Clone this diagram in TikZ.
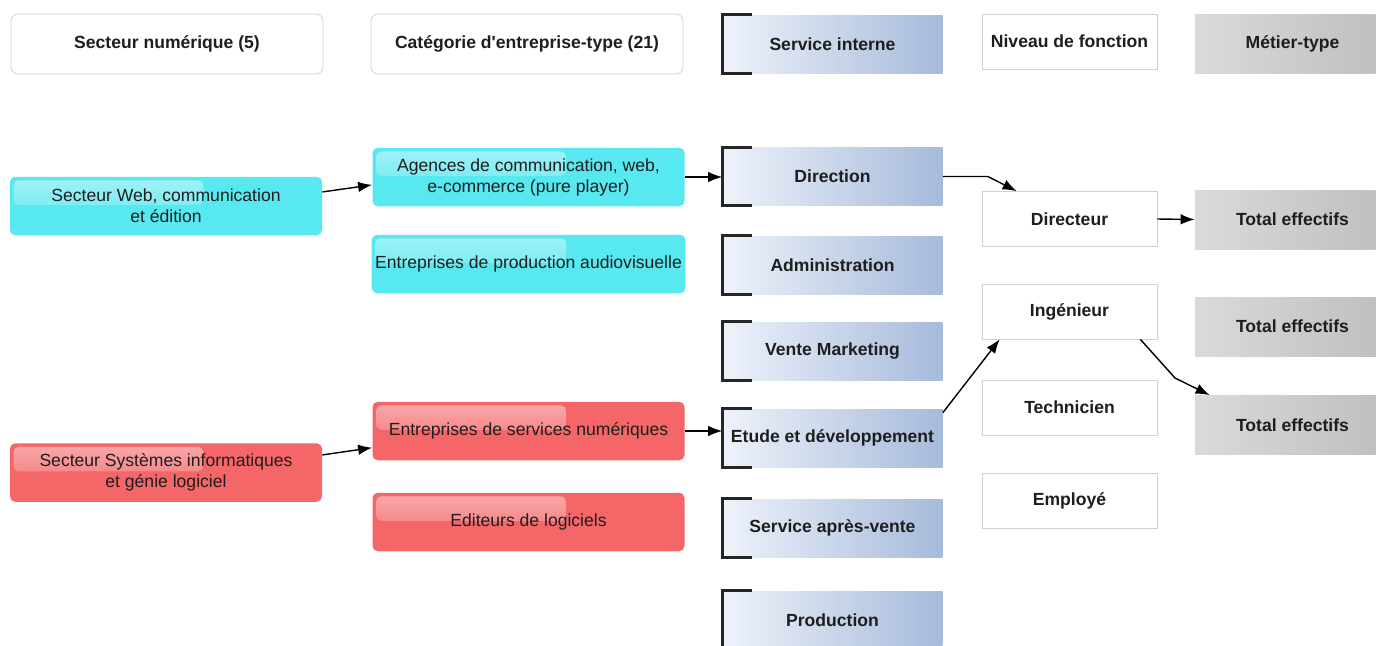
\documentclass[tikz,border=0pt]{standalone}
\usepackage{fontspec}
\setmainfont{Liberation Sans}
\usetikzlibrary{calc,fadings,arrows.meta}
\definecolor{cyanbox}{RGB}{88,232,240}
\definecolor{redbox}{RGB}{244,102,104}
\definecolor{svcleft}{RGB}{238,242,250}
\definecolor{svcright}{RGB}{166,186,218}
\definecolor{grisclair}{RGB}{218,218,218}
\definecolor{grisfonce}{RGB}{190,190,190}
\definecolor{bord}{RGB}{208,208,208}
\definecolor{texte}{RGB}{30,30,30}
\tikzset{
  base/.style={font=\fontsize{10}{12}\selectfont\bfseries, text=texte, inner sep=2pt, align=center},
  entete/.style={base, draw=bord, fill=white, rounded corners=4pt, minimum width=6.24cm, minimum height=1.2cm},
  gloss/.style={path picture={\fill[white,opacity=.45,rounded corners=3pt,path fading=south]
      ([shift={(2pt,-2pt)}]path picture bounding box.north west) rectangle
      ($(path picture bounding box.north west)!.62!(path picture bounding box.east)+(0,-0.2)$);}},
  secteur/.style={base, font=\fontsize{10}{12}\selectfont, fill=#1, rounded corners=3pt,
      minimum width=6.24cm, minimum height=1.17cm, gloss},
  service/.style={base, left color=svcleft, right color=svcright, minimum width=4.4cm, minimum height=1.16cm},
  crochet/.style={draw=black!85, line width=1.6pt},
  fonction/.style={base, draw=bord, fill=white, minimum width=3.5cm, minimum height=1.1cm},
  metier/.style={base, left color=grisclair, right color=grisfonce, minimum width=3.9cm, minimum height=1.18cm},
  fleche/.style={draw, thick, ->, >={Latex[length=8pt,width=6pt]}}
}
\begin{document}
\begin{tikzpicture}
\useasboundingbox (0,0) rectangle (27.52,-12.9);

% en-tetes
\node[entete] (secnum) at (3.34,-0.88) {Secteur numérique (5)};
\node[entete] (catent) at (10.54,-0.88) {Catégorie d\textquotesingle entreprise-type (21)};
\node[fonction] (niveau) at (21.39,-0.83) {Niveau de fonction};
\node[metier] (metier) at (25.85,-0.88) {Métier-type};

% secteurs et categories
\node[secteur=cyanbox] (web) at (3.32,-4.12) {Secteur Web, communication\\et édition};
\node[secteur=cyanbox] (agences) at (10.57,-3.54) {Agences de communication, web,\\e-commerce (pure player)};
\node[secteur=cyanbox] (audio) at (10.57,-5.28) {Entreprises de production audiovisuelle};
\node[secteur=redbox] (systemes) at (3.32,-9.45) {Secteur Systèmes informatiques\\et génie logiciel};
\node[secteur=redbox] (esn) at (10.57,-8.62) {Entreprises de services numériques};
\node[secteur=redbox] (editeurs) at (10.57,-10.44) {Editeurs de logiciels};

% services internes
\foreach \nom/\txt/\y in {svcint/Service interne/-0.88, direction/Direction/-3.53,
    admin/Administration/-5.3, vente/Vente Marketing/-7.02, etude/Etude et développement/-8.76,
    sav/Service après-vente/-10.56, production/Production/-12.4} {
  \node[service] (\nom) at (16.65,\y) {\txt};
  \draw[crochet] ([xshift=0.6cm]\nom.north west) -| (\nom.south west) -- ([xshift=0.6cm]\nom.south west);
}

% niveaux de fonction
\foreach \nom/\txt/\y in {directeur/Directeur/-4.38, ingenieur/Ingénieur/-6.23,
    technicien/Technicien/-8.15, employe/Employé/-10.01}
  \node[fonction] (\nom) at (21.39,\y) {\txt};

% metiers-types
\foreach \nom/\y in {tot1/-4.39, tot2/-6.53, tot3/-8.5}
  \node[metier] (\nom) at (25.85,\y) {Total effectifs};

\coordinate (coude) at (23.5,-7.56);

\path[fleche] ([yshift=8pt]web.east) -- ([yshift=-4.5pt]agences.west);
\path[fleche] ([yshift=10pt]systemes.east) -- ([yshift=-9.5pt]esn.west);
\path[fleche] (agences.east) -- (agences.east -| direction.west);
\path[fleche] (esn.east) -- (esn.east -| etude.west);
\path[fleche] (direction.east) -- ++(0.9,0) -- ([xshift=0.7cm]directeur.north west);
\path[fleche] (directeur.east) -- (tot1.west);
\path[fleche] ([yshift=-0.08cm]etude.north east) -- ([xshift=0.36cm]ingenieur.south west);
\path[fleche] ([xshift=-0.34cm]ingenieur.south east) -- (coude) -- ([xshift=0.3cm]tot3.north west);
\end{tikzpicture}
\end{document}
